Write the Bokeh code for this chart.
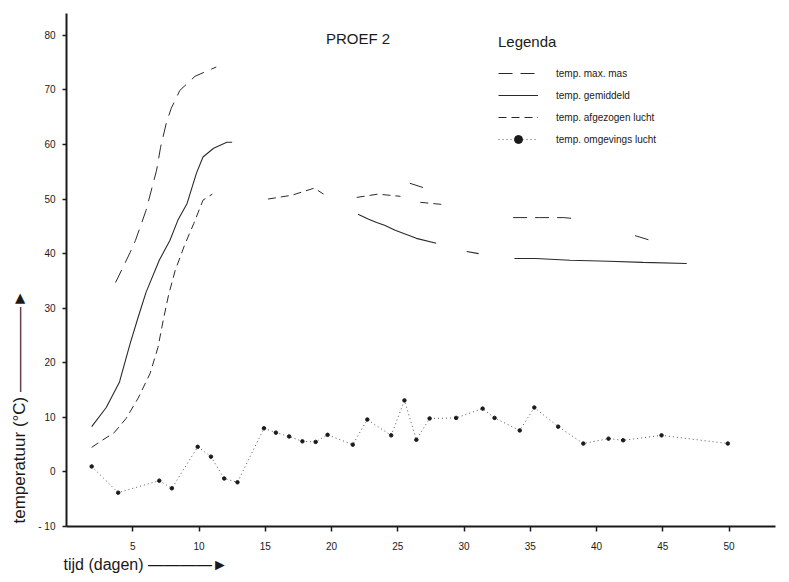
from bokeh.plotting import figure
from bokeh.models import Range1d, FixedTicker, Label, Legend, LegendItem, Title
from bokeh.embed import file_html
from bokeh.resources import INLINE

nan = float("nan")

# temp. max. mas (long dash)
max_dag = [3.7, 4.8, 5.2, 6.0, 6.8, 7.1, 7.55, 7.9, 8.55, 9.7, 11.3, nan,
           25.9, 27.3, nan, 33.7, 34.8, 35.7, 37.5, 38.4, nan, 42.9, 44.1]
max_temp = [34.7, 40.2, 42.4, 47.9, 55.3, 59.5, 64.1, 66.6, 69.9, 72.5, 74.2, nan,
            52.9, 51.8, nan, 46.6, 46.6, 46.6, 46.6, 46.4, nan, 43.3, 42.4]

# temp. gemiddeld (solid)
gem_dag = [1.9, 3.0, 4.0, 4.8, 5.4, 6.0, 7.0, 7.8, 8.4, 9.1, 9.8, 10.3, 11.1, 12.1, 12.5, nan,
           22.0, 22.8, 23.4, 24.0, 24.8, 26.4, 27.9, nan, 30.2, 31.1, nan,
           33.8, 35.4, 38.0, 40.9, 43.5, 46.8]
gem_temp = [8.3, 11.8, 16.5, 23.5, 28.3, 32.9, 38.8, 42.4, 46.1, 49.2, 54.7, 57.7, 59.3, 60.4, 60.4, nan,
            47.2, 46.3, 45.7, 45.2, 44.3, 42.8, 41.9, nan, 40.4, 40.0, nan,
            39.1, 39.1, 38.8, 38.6, 38.4, 38.2]

# temp. afgezogen lucht (short dash)
afg_dag = [1.9, 2.7, 3.6, 4.5, 5.4, 6.3, 6.9, 7.3, 7.7, 8.2, 8.9, 9.6, 10.3, 11.0, nan,
           15.2, 17.0, 18.7, 19.4, nan, 21.9, 23.5, 25.2, nan, 26.7, 28.4]
afg_temp = [4.5, 5.8, 7.2, 9.8, 13.5, 18.0, 22.8, 27.8, 32.4, 36.9, 41.5, 45.5, 49.8, 50.9, nan,
            50.0, 50.7, 52.0, 50.9, nan, 50.3, 50.9, 50.5, nan, 49.4, 49.0]

# temp. omgevings lucht (dotted with markers)
omg_dag = [1.9, 3.9, 7.0, 7.95, 9.9, 10.9, 11.9, 12.9, 14.9, 15.8, 16.8, 17.8, 18.8, 19.7,
           21.6, 22.7, 24.5, 25.5, 26.4, 27.4, 29.4, 31.4, 32.3, 34.2, 35.3, 37.1, 39.0,
           40.9, 42.0, 44.9, 49.9]
omg_temp = [1.0, -3.8, -1.6, -3.0, 4.6, 2.8, -1.2, -1.9, 8.0, 7.2, 6.5, 5.6, 5.5, 6.8,
            5.0, 9.6, 6.7, 13.1, 5.9, 9.8, 9.9, 11.6, 9.9, 7.6, 11.8, 8.3, 5.2,
            6.1, 5.8, 6.7, 5.2]

x_ticks = [5, 10, 15, 20, 25, 30, 35, 40, 45, 50]
y_ticks = [-10, 0, 10, 20, 30, 40, 50, 60, 70, 80]

labels = ["temp. max. mas", "temp. gemiddeld", "temp. afgezogen lucht", "temp. omgevings lucht"]

FONT = "Liberation Sans"
INK = "#1a1a1a"
LINE = "#2a2a2a"

p = figure(width=789, height=582, x_range=Range1d(0, 53.5), y_range=Range1d(-10, 84),
           output_backend="svg", toolbar_location=None, title=None,
           min_border_left=66, min_border_right=14, min_border_top=13, min_border_bottom=56)

p.xgrid.visible = False
p.ygrid.visible = False
p.outline_line_color = None
p.background_fill_color = "white"
p.border_fill_color = "white"

for ax in (p.xaxis[0], p.yaxis[0]):
    ax.axis_line_width = 2
    ax.axis_line_color = INK
    ax.major_tick_line_color = INK
    ax.major_tick_line_width = 1.5
    ax.minor_tick_line_color = None
    ax.major_tick_in = 0
    ax.major_label_text_font = FONT
    ax.major_label_text_font_size = "10px"
    ax.major_label_text_color = INK

p.xaxis.ticker = FixedTicker(ticks=x_ticks)
p.yaxis.ticker = FixedTicker(ticks=y_ticks)
p.xaxis.major_tick_out = 5
p.yaxis.major_tick_out = 4
p.xaxis.major_label_standoff = 10
p.yaxis.major_label_standoff = 7
p.yaxis.major_label_overrides = {-10: "- 10"}

# axis titles (placed in the side panels, left aligned like the original)
p.add_layout(Title(text="tijd (dagen) ————►", align="left", offset=-3, standoff=3,
                   text_font=FONT, text_font_size="16px", text_font_style="normal",
                   text_color=INK), "below")
p.add_layout(Title(text="temperatuur (°C) —————►", align="left", offset=3, standoff=14,
                   text_font=FONT, text_font_size="17px", text_font_style="normal",
                   text_color=INK), "left")

r_max = p.line(max_dag, max_temp, line_color=LINE, line_width=1.0, line_dash="14 8")
r_gem = p.line(gem_dag, gem_temp, line_color=LINE, line_width=1.1)
r_afg = p.line(afg_dag, afg_temp, line_color=LINE, line_width=1.0, line_dash="8 5")
r_omg = p.line(omg_dag, omg_temp, line_color="#555555", line_width=1, line_dash="1 3")
r_omg_pts = p.scatter(omg_dag, omg_temp, size=3.5, color=INK)

legend = Legend(items=[
    LegendItem(label=labels[0], renderers=[r_max]),
    LegendItem(label=labels[1], renderers=[r_gem]),
    LegendItem(label=labels[2], renderers=[r_afg]),
    LegendItem(label=labels[3], renderers=[r_omg, r_omg_pts]),
], location=(427, 372), title="Legenda")
legend.title_text_font = FONT
legend.title_text_font_size = "15px"
legend.title_text_font_style = "normal"
legend.title_text_color = INK
legend.title_standoff = 13
legend.label_text_font = FONT
legend.label_text_font_size = "10px"
legend.label_text_color = INK
legend.glyph_width = 40
legend.glyph_height = 20
legend.label_height = 20
legend.spacing = 2
legend.label_standoff = 18
legend.padding = 5
legend.margin = 0
legend.border_line_alpha = 0
legend.background_fill_alpha = 0
p.add_layout(legend)

p.add_layout(Label(x=22.0, y=79.4, text="PROEF 2", text_align="center", text_baseline="middle",
                   text_font=FONT, text_font_size="15px", text_color=INK))

open("out.html", "w").write(file_html(p, INLINE))
